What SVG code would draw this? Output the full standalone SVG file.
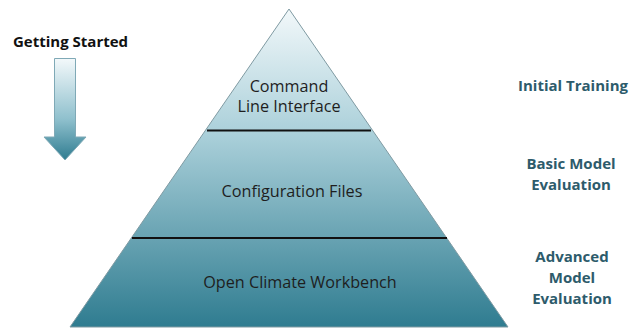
<svg xmlns="http://www.w3.org/2000/svg" width="629" height="328" viewBox="0 0 629 328">
<defs>
<linearGradient id="pyr" x1="0" y1="9" x2="0" y2="327" gradientUnits="userSpaceOnUse">
<stop offset="0" stop-color="#f2f8fa"/>
<stop offset="0.4" stop-color="#a9cfd9"/>
<stop offset="1" stop-color="#2f7c90"/>
</linearGradient>
<linearGradient id="arr" x1="0" y1="58" x2="0" y2="160" gradientUnits="userSpaceOnUse">
<stop offset="0" stop-color="#f4f9fb"/>
<stop offset="0.6" stop-color="#8fc0cd"/>
<stop offset="1" stop-color="#2f7c90"/>
</linearGradient>
<style>
.lbl{font-family:"Open Sans","Liberation Sans",sans-serif;font-size:16.2px;fill:#1e1e1e;text-anchor:middle}
.side{font-family:"Open Sans","Liberation Sans",sans-serif;font-size:15px;font-weight:bold;fill:#2d5b6b;text-anchor:middle}
.div{stroke:#111;stroke-width:2}
</style>
</defs>
<rect width="629" height="328" fill="#fff"/>
<g id="pyramid">
<polygon points="289,9 508,327 70,327" fill="url(#pyr)" stroke="#7f9aa2" stroke-width="1"/>
</g>
<g id="connectors">
<line class="div" x1="207" y1="130.5" x2="371" y2="130.5"/>
<line class="div" x1="132" y1="238" x2="447" y2="238"/>
</g>
<g id="level1"><text class="lbl" x="289" y="92">Command</text><text class="lbl" x="289" y="112">Line Interface</text></g>
<g id="level2"><text class="lbl" x="292" y="197">Configuration Files</text></g>
<g id="level3"><text class="lbl" x="300" y="288">Open Climate Workbench</text></g>
<g id="getting-started">
<text x="13" y="47" font-family="'Open Sans','Liberation Sans',sans-serif" font-size="15" font-weight="bold" fill="#111">Getting Started</text>
<polygon points="54.5,58.5 75.5,58.5 75.5,137 86,137 65,160 44,137 54.5,137" fill="url(#arr)" stroke="#7fa9b6" stroke-width="1"/>
</g>
<g id="stage1"><text class="side" x="573" y="91">Initial Training</text></g>
<g id="stage2"><text class="side" x="571" y="169">Basic Model</text><text class="side" x="571" y="190">Evaluation</text></g>
<g id="stage3"><text class="side" x="572" y="262">Advanced</text><text class="side" x="572" y="283">Model</text><text class="side" x="572" y="304">Evaluation</text></g>
</svg>
